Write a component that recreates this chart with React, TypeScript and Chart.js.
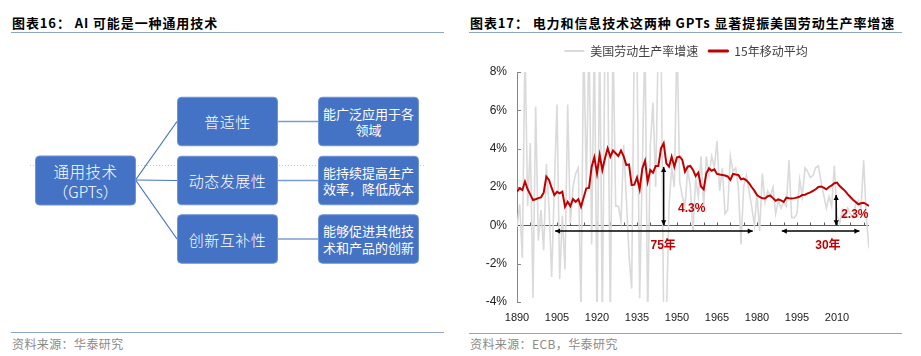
import React, { useEffect, useRef } from "react";
import { Chart, registerables } from "chart.js";

Chart.register(...registerables);

if (typeof document !== "undefined") {
  document.body.style.margin = "0";
}

// ---------------- data ----------------
const START_YEAR = 1890;
const END_YEAR = 2022;

// 美国劳动生产率增速 (%), 1890-2022
const productivityGrowth = [
  -0.1, 1.1, -1.7, 9.5, 1.0, 4.3, -3.8, 6.2, -0.8, 0.8, // 1890s
  -1.3, 3.2, 1.0, -2.7, 2.0, 6.3, -2.8, 0.5, -2.3, 6.3, // 1900s
  0.1, 2.0, 2.7, 3.0, -4.5, 10, 2.0, 10, -1.0, 10, // 1910s
  -5, 10, -5, 10, 9, -5, 10, 1.0, 1.0, 0.2, // 1920s
  4.2, 1.4, -1.5, -3.3, 10, 9, -3.8, 3.1, 10, -5, // 1930s
  4.2, 6.4, 2.0, 10, 10, -5, -5, 1.0, 3.0, 2.0, // 1940s
  10, 2.3, 1.5, 1.0, 2.9, 2.0, -0.3, 2.4, 1.5, 3.6, // 1950s
  1.0, 3.6, 2.6, 3.6, 3.0, 4.4, 1.8, 3.0, 0.6, 0.8, // 1960s
  3.6, 2.8, 3.0, 2.0, -1.0, 2.0, 2.6, 1.8, 1.0, 0.0, // 1970s
  1.6, -0.3, 2.7, 1.2, 1.8, 1.5, 2.0, 0.6, 1.3, 0.9, // 1980s
  1.2, 1.0, 3.4, 0.4, 0.4, 0.6, 2.4, 1.5, 3.0, 2.8, // 1990s
  2.5, 2.6, 3.0, 3.1, 2.3, 1.6, 0.9, 1.5, 1.0, 3.1, // 2000s
  0.5, 0.1, 0.8, 0.4, 0.9, 0.6, 0.4, 1.1, 1.3, 0.9, // 2010s
  3.4, 0.4, -1.2, // 2020-2022
];

// 15年移动平均 (%), 1890-2022
const movingAvg15 = [
  1.76, 1.93, 1.84, 2.28, 1.88, 1.6, 1.32, 1.36, 1.42, 1.46,
  1.7, 2.54, 2.37, 1.95, 1.58, 1.75, 1.67, 1.76, 0.97, 1.23,
  1.0, 1.37, 1.23, 1.36, 0.97, 1.45, 1.93, 1.95, 3.06, 3.55,
  2.71, 3.67, 2.89, 3.5, 4.02, 3.58, 3.9, 3.76, 3.62, 3.9,
  3.6, 3.15, 3.18, 2.1, 2.12, 2.5, 1.88, 2.97, 3.37, 2.28,
  2.89, 2.75, 3.1, 3.1, 4.02, 4.28, 3.23, 3.06, 3.58, 3.06,
  3.55, 3.58, 3.41, 2.8, 3.06, 3.1, 2.89, 2.57, 2.75, 2.02,
  1.88, 2.71, 2.97, 2.85, 2.92, 2.68, 2.65, 2.63, 2.6, 2.55,
  2.37, 2.68, 2.65, 2.63, 2.4, 2.44, 2.35, 2.2, 2.0, 1.81,
  1.58, 1.48, 1.41, 1.4, 1.52, 1.55, 1.42, 1.28, 1.35, 1.3,
  1.22, 1.44, 1.41, 1.4, 1.42, 1.45, 1.5, 1.58, 1.6, 1.67,
  1.72, 1.8, 1.88, 2.0, 2.03, 1.97, 1.88, 2.0, 2.08, 2.2,
  2.23, 2.05, 1.92, 1.8, 1.63, 1.48, 1.34, 1.22, 1.1, 1.15,
  1.18, 1.1, 1.01,
];

const years = Array.from({ length: END_YEAR - START_YEAR + 1 }, (_, i) => START_YEAR + i);

const seriesNames = ["美国劳动生产率增速", "15年移动平均"];
const Y_MIN = -4;
const Y_MAX = 8;
const Y_STEP = 2;
const X_LABEL_STEP = 15;
const X_MINOR_STEP = 5;

// annotations (data space)
const verticalArrows = [
  { year: 1945, from: 0, to: 3.05 },
  { year: 2009.7, from: 0, to: 1.58 },
];
const spanArrows = [
  { from: 1904.3, to: 1978.4, value: -0.3 },
  { from: 1989.3, to: 2018.4, value: -0.3 },
];
const annotationTexts = [
  { text: "4.3%", year: 1955.5, value: 0.89 },
  { text: "2.3%", year: 2016.7, value: 0.54 },
  { text: "75年", year: 1944.8, value: -1.04 },
  { text: "30年", year: 2006.6, value: -1.04 },
];

// diagram text
const gptTitle = ["通用技术", "（GPTs）"];
const traits = ["普适性", "动态发展性", "创新互补性"];
const effects = [
  ["能广泛应用于各", "领域"],
  ["能持续提高生产", "效率，降低成本"],
  ["能够促进其他技", "术和产品的创新"],
];

const CJK = '"Noto Sans CJK SC", "Noto Sans", sans-serif';
const SANS = '"Liberation Sans", Arial, "Noto Sans CJK SC", sans-serif';

// ---------------- chart helpers ----------------
function arrowHead(ctx: CanvasRenderingContext2D, x: number, y: number, angle: number) {
  const len = 5;
  const half = 2.6;
  ctx.save();
  ctx.translate(x, y);
  ctx.rotate(angle);
  ctx.beginPath();
  ctx.moveTo(0, 0);
  ctx.lineTo(-len, -half);
  ctx.lineTo(-len, half);
  ctx.closePath();
  ctx.fill();
  ctx.restore();
}

function doubleArrow(ctx: CanvasRenderingContext2D, x1: number, y1: number, x2: number, y2: number) {
  const ang = Math.atan2(y2 - y1, x2 - x1);
  ctx.beginPath();
  ctx.moveTo(x1, y1);
  ctx.lineTo(x2, y2);
  ctx.stroke();
  arrowHead(ctx, x2, y2, ang);
  arrowHead(ctx, x1, y1, ang + Math.PI);
}

const LEGEND_SHIFT = 43;

const decorPlugin = {
  id: "decor",
  beforeLayout(chart: any) {
    const lg = chart.legend;
    if (lg && !lg.__patched) {
      const orig = lg.fit;
      lg.fit = function () {
        orig.call(this);
        this.height += 5;
      };
      lg.__patched = true;
    }
  },
  afterLayout(chart: any) {
    const lg = chart.legend;
    if (lg) {
      lg.left += LEGEND_SHIFT;
    }
  },
  beforeDatasetsDraw(chart: any) {
    const { ctx, chartArea } = chart;
    const x = chart.scales.x;
    const y = chart.scales.y;
    ctx.save();
    // inward y ticks
    ctx.strokeStyle = "#868686";
    ctx.lineWidth = 1;
    y.ticks.forEach((t: any) => {
      const py = Math.round(y.getPixelForValue(t.value)) + 0.5;
      ctx.beginPath();
      ctx.moveTo(chartArea.left, py);
      ctx.lineTo(chartArea.left + 4, py);
      ctx.stroke();
    });
    // zero axis with minor ticks
    const y0 = Math.round(y.getPixelForValue(0)) + 0.5;
    ctx.strokeStyle = "#595959";
    ctx.beginPath();
    ctx.moveTo(chartArea.left, y0);
    ctx.lineTo(chartArea.right, y0);
    ctx.stroke();
    for (let yr = START_YEAR + X_MINOR_STEP; yr <= END_YEAR; yr += X_MINOR_STEP) {
      const px = Math.round(x.getPixelForValue(yr)) + 0.5;
      ctx.beginPath();
      ctx.moveTo(px, y0);
      ctx.lineTo(px, y0 - 3);
      ctx.stroke();
    }
    ctx.restore();
  },
  afterDatasetsDraw(chart: any) {
    const { ctx } = chart;
    const x = chart.scales.x;
    const y = chart.scales.y;
    ctx.save();
    ctx.strokeStyle = "#000000";
    ctx.fillStyle = "#000000";
    ctx.lineWidth = 1.5;
    verticalArrows.forEach((a) => {
      const px = x.getPixelForValue(a.year);
      doubleArrow(ctx, px, y.getPixelForValue(a.from), px, y.getPixelForValue(a.to));
    });
    spanArrows.forEach((a) => {
      const py = y.getPixelForValue(a.value);
      doubleArrow(ctx, x.getPixelForValue(a.from), py, x.getPixelForValue(a.to), py);
    });
    ctx.fillStyle = "#C00000";
    ctx.font = `bold 12px ${SANS}`;
    ctx.textAlign = "center";
    ctx.textBaseline = "middle";
    annotationTexts.forEach((t) => {
      ctx.fillText(t.text, x.getPixelForValue(t.year), y.getPixelForValue(t.value));
    });
    ctx.restore();
  },
};

function ProductivityChart() {
  const ref = useRef<HTMLCanvasElement>(null);
  useEffect(() => {
    const canvas = ref.current;
    if (!canvas) return;
    const chart = new Chart(canvas, {
      type: "line",
      data: {
        datasets: [
          {
            label: seriesNames[0],
            data: years.map((yr, i) => ({ x: yr, y: productivityGrowth[i] })),
            borderColor: "#DADADA",
            backgroundColor: "#DADADA",
            borderWidth: 1.6,
            pointRadius: 0,
            tension: 0,
            order: 2,
          },
          {
            label: seriesNames[1],
            data: years.map((yr, i) => ({ x: yr, y: movingAvg15[i] })),
            borderColor: "#C00000",
            backgroundColor: "#C00000",
            borderWidth: 2,
            pointRadius: 0,
            tension: 0,
            order: 1,
          },
        ],
      },
      options: {
        animation: false,
        responsive: false,
        maintainAspectRatio: false,
        devicePixelRatio: 1,
        layout: { padding: { top: 0, right: 32, bottom: 0, left: 0 } },
        plugins: {
          legend: {
            display: true,
            position: "top",
            align: "center",
            labels: {
              boxWidth: 20,
              boxHeight: 2,
              padding: 10,
              color: "#404040",
              font: { size: 12, family: CJK },
              sort: (a: any, b: any) => a.datasetIndex - b.datasetIndex,
              generateLabels: (c: any) =>
                (Chart.defaults.plugins.legend.labels as any)
                  .generateLabels(c)
                  .map((l: any) => ({ ...l, lineWidth: l.datasetIndex === 1 ? 1 : 0 })),
            },
          },
          tooltip: { enabled: false },
        },
        scales: {
          x: {
            type: "linear",
            min: START_YEAR,
            max: END_YEAR,
            grid: { display: false, drawTicks: false },
            border: { display: false },
            afterFit: (s: any) => {
              s.height = 24;
            },
            ticks: {
              stepSize: X_LABEL_STEP,
              includeBounds: false,
              autoSkip: false,
              maxRotation: 0,
              padding: 9,
              color: "#222222",
              font: { size: 11, family: SANS },
              callback: (v: any) => ((Number(v) - START_YEAR) % X_LABEL_STEP === 0 ? String(v) : ""),
            },
          },
          y: {
            min: Y_MIN,
            max: Y_MAX,
            grid: { display: true, drawOnChartArea: false, drawTicks: false },
            border: { display: true, color: "#868686", width: 1 },
            afterFit: (s: any) => {
              s.width = 57;
            },
            ticks: {
              stepSize: Y_STEP,
              padding: 10,
              color: "#222222",
              font: { size: 12, family: SANS },
              callback: (v: any) => `${v}%`,
            },
          },
        },
      },
      plugins: [decorPlugin],
    } as any);
    return () => chart.destroy();
  }, []);
  return (
    <canvas
      ref={ref}
      width={441}
      height={291}
      style={{ position: "absolute", left: 460, top: 35, width: 441, height: 291 }}
    />
  );
}

// ---------------- diagram ----------------
function Diagram() {
  const boxFill = "#4472C4";
  const boxStroke = "#6F93D3";
  const rowY = [121.5, 180.5, 239];
  const boxH = 48.5;
  return (
    <svg width={460} height={356} style={{ position: "absolute", left: 0, top: 0 }}>
      <line x1={30} y1={165.5} x2={426} y2={165.5} stroke="#C8C8C8" strokeWidth={1} strokeDasharray="1 2" />
      {rowY.map((cy, i) => (
        <line key={"c" + i} x1={135.5} y1={180} x2={177} y2={cy} stroke="#4472C4" strokeWidth={1.2} />
      ))}
      {rowY.map((cy, i) => (
        <line key={"d" + i} x1={278} y1={cy} x2={318} y2={cy} stroke="#7B9BD4" strokeWidth={1.5} />
      ))}
      <rect x={35.5} y={156} width={100} height={49} rx={4} fill={boxFill} stroke={boxStroke} strokeWidth={1} />
      <text x={85.5} y={170.5} fill="#fff" fontSize={15.5} fontFamily={CJK} fontWeight={300} textAnchor="middle" dominantBaseline="central" letterSpacing={0.5}>
        {gptTitle[0]}
      </text>
      <text x={85.5} y={190.5} fill="#fff" fontSize={15.5} fontFamily={CJK} fontWeight={300} textAnchor="middle" dominantBaseline="central">
        {gptTitle[1]}
      </text>
      {traits.map((t, i) => (
        <g key={"t" + i}>
          <rect x={177.5} y={rowY[i] - boxH / 2} width={100} height={boxH} rx={4} fill={boxFill} stroke={boxStroke} strokeWidth={1} />
          <text x={227.5} y={rowY[i]} fill="#fff" fontSize={15} fontFamily={CJK} fontWeight={300} textAnchor="middle" dominantBaseline="central" letterSpacing={0.5}>
            {t}
          </text>
        </g>
      ))}
      {effects.map((lines, i) => (
        <g key={"e" + i}>
          <rect x={318.5} y={rowY[i] - boxH / 2} width={100} height={boxH} rx={4} fill={boxFill} stroke={boxStroke} strokeWidth={1} />
          <text x={368.5} y={rowY[i] - 8.3} fill="#fff" fontSize={13} fontFamily={CJK} textAnchor="middle" dominantBaseline="central">
            {lines[0]}
          </text>
          <text x={368.5} y={rowY[i] + 8.3} fill="#fff" fontSize={13} fontFamily={CJK} textAnchor="middle" dominantBaseline="central">
            {lines[1]}
          </text>
        </g>
      ))}
    </svg>
  );
}

export default function App() {
  const titleStyle: React.CSSProperties = {
    position: "absolute",
    top: 15,
    fontFamily: CJK,
    fontWeight: 700,
    fontSize: 13,
    lineHeight: "16px",
    letterSpacing: 0.9,
    color: "#000",
    whiteSpace: "nowrap",
  };
  const ruleStyle = (left: number, top: number, width: number): React.CSSProperties => ({
    position: "absolute",
    left,
    top,
    width,
    height: 0,
    borderTop: "1.3px solid #8EA5C4",
  });
  const sourceStyle: React.CSSProperties = {
    position: "absolute",
    top: 336,
    fontFamily: CJK,
    fontSize: 12,
    lineHeight: "15px",
    letterSpacing: 0.4,
    color: "#8A8A8A",
    whiteSpace: "nowrap",
  };
  return (
    <div style={{ position: "relative", width: 921, height: 356, background: "#fff", overflow: "hidden" }}>
      <div style={{ ...titleStyle, left: 12 }}>图表16：&nbsp;AI 可能是一种通用技术</div>
      <div style={ruleStyle(11, 32, 433)} />
      <Diagram />
      <div style={ruleStyle(11, 332, 433)} />
      <div style={{ ...sourceStyle, left: 12 }}>资料来源：华泰研究</div>

      <div style={{ ...titleStyle, left: 470 }}>图表17：&nbsp;电力和信息技术这两种 GPTs 显著提振美国劳动生产率增速</div>
      <div style={ruleStyle(469, 32, 433)} />
      <ProductivityChart />
      <div style={ruleStyle(469, 333, 433)} />
      <div style={{ ...sourceStyle, left: 470 }}>资料来源：ECB，华泰研究</div>
    </div>
  );
}
